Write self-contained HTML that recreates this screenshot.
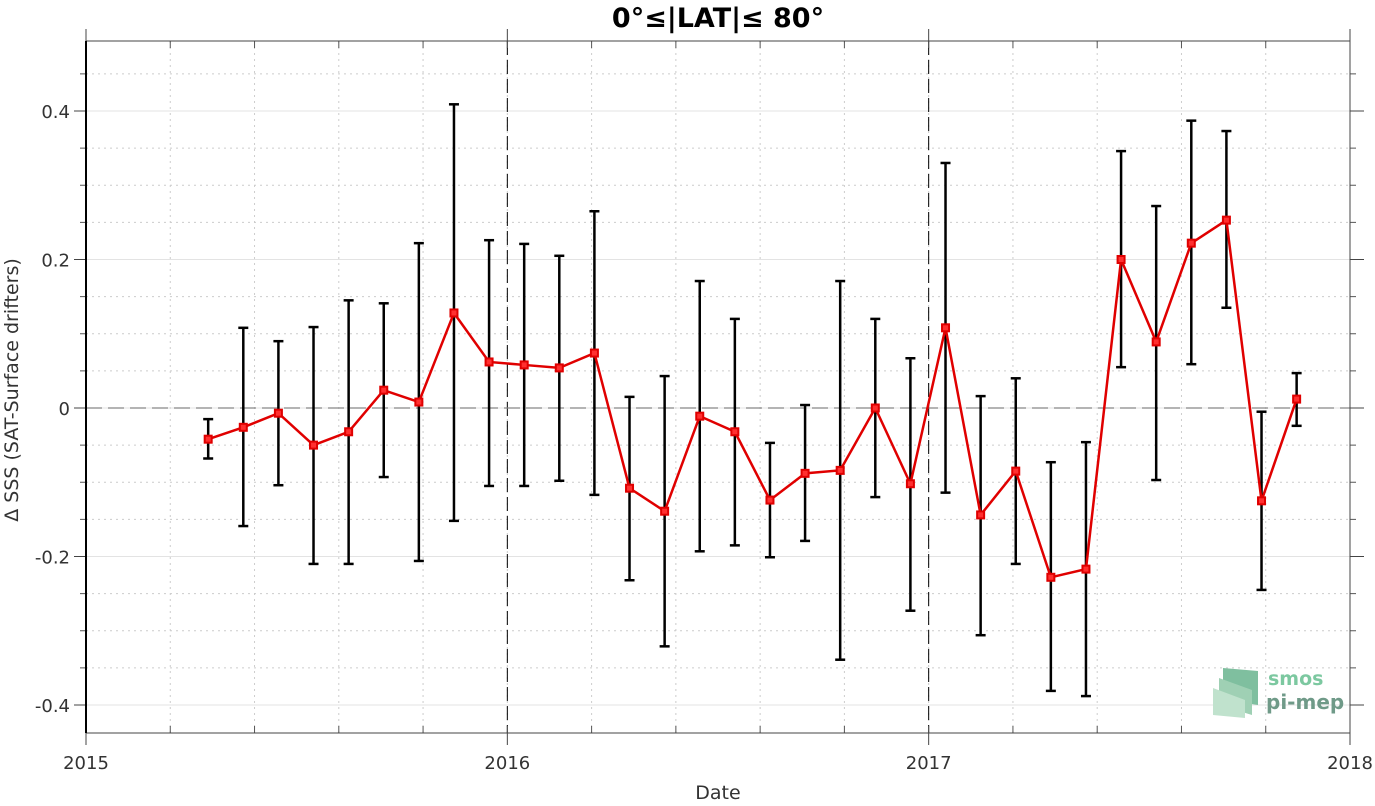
<!DOCTYPE html>
<html><head><meta charset="utf-8"><style>
body{margin:0;background:#fff;width:1375px;height:801px;overflow:hidden;font-family:"Liberation Sans","DejaVu Sans",sans-serif}
</style></head><body>
<svg id="chart" width="1375" height="801" xmlns="http://www.w3.org/2000/svg" font-family="DejaVu Sans, Liberation Sans, sans-serif">
<g id="grid"></g>
<g id="axes"></g>
<g id="series"></g>
<text x="718" y="27" text-anchor="middle" font-size="27" font-weight="bold" fill="#000">0°≤|LAT|≤ 80°</text>
<text x="718" y="799" text-anchor="middle" font-size="19" fill="#333">Date</text>
<text transform="translate(18,390) rotate(-90)" text-anchor="middle" font-size="19" fill="#333">Δ SSS (SAT-Surface drifters)</text>
<g>
<polygon points="1223,668 1258,671 1258,705 1223,700" fill="#7fbf9f"/>
<polygon points="1219,678 1252,690 1252,715 1219,705" fill="#9fd0b4"/>
<polygon points="1213,688 1245,700 1245,718 1213,715" fill="#c0e2cd"/>
<text x="1268" y="685" font-size="19" font-weight="bold" fill="#7cc8a0">smos</text>
<text x="1266" y="709" font-size="20" font-weight="bold" fill="#6f9a88">pi-mep</text>
</g>
</svg>
<script>
const dates=[];for(let i=0;i<32;i++)dates.push(2015.29+i/12);
const means=[-0.042,-0.026,-0.007,-0.05,-0.032,0.024,0.008,0.128,0.062,0.058,0.054,0.074,-0.108,-0.139,-0.011,-0.032,-0.124,-0.088,-0.084,0.0,-0.102,0.108,-0.144,-0.085,-0.228,-0.217,0.2,0.089,0.222,0.253,-0.125,0.012];
const upper=[-0.015,0.108,0.09,0.109,0.145,0.141,0.222,0.409,0.226,0.221,0.205,0.265,0.015,0.043,0.171,0.12,-0.047,0.004,0.171,0.12,0.067,0.33,0.016,0.04,-0.073,-0.046,0.346,0.272,0.387,0.373,-0.005,0.047];
const lower=[-0.068,-0.159,-0.104,-0.21,-0.21,-0.093,-0.206,-0.152,-0.105,-0.105,-0.098,-0.117,-0.232,-0.321,-0.193,-0.185,-0.201,-0.179,-0.339,-0.12,-0.273,-0.114,-0.306,-0.21,-0.381,-0.388,0.055,-0.097,0.059,0.135,-0.245,-0.024];
const yTicks=[-0.4,-0.2,0,0.2,0.4];
const yTickLabels=["-0.4","-0.2","0","0.2","0.4"];
const xTicks=[2015,2016,2017,2018];
const NS="http://www.w3.org/2000/svg";
const L=86,R=1350,T=41,B=733;
const xs=v=>L+(v-2015)/3*(R-L);
const ys=v=>408-v*742.5;
function mk(p,t,a){const e=document.createElementNS(NS,t);for(const k in a)e.setAttribute(k,a[k]);p.appendChild(e);return e;}
const grid=document.getElementById('grid'),axes=document.getElementById('axes'),ser=document.getElementById('series');
for(let v=-0.45;v<=0.5;v+=0.05){const y=ys(v);if(y<T||y>B)continue;
 const g=mk(grid,'line',{x1:L,x2:R,y1:y,y2:y,stroke:'#ccc','stroke-dasharray':'2,4','stroke-width':1});
 
 mk(axes,'line',{x1:L-6,x2:L,y1:y,y2:y,stroke:'#555'});mk(axes,'line',{x1:R,x2:R+6,y1:y,y2:y,stroke:'#555'});}
for(let k=1;k<15;k++){const x=xs(2015+k*0.2);
 const g=mk(grid,'line',{x1:x,x2:x,y1:T,y2:B,stroke:'#ccc','stroke-dasharray':'2,4','stroke-width':1});
 
 mk(axes,'line',{x1:x,x2:x,y1:B,y2:B-7,stroke:'#555'});mk(axes,'line',{x1:x,x2:x,y1:T,y2:T+7,stroke:'#555'});}
yTicks.forEach((v,i)=>{const y=ys(v);
 const g=mk(grid,'line',{x1:L,x2:R,y1:y,y2:y,stroke:'#e3e3e3','stroke-width':1});
 
 mk(axes,'line',{x1:L-12,x2:L,y1:y,y2:y,stroke:'#444'});mk(axes,'line',{x1:R,x2:R+14,y1:y,y2:y,stroke:'#444'});
 const t=mk(axes,'text',{x:L-16,y:y+7,'text-anchor':'end','font-size':18,fill:'#333'});t.textContent=yTickLabels[i];
 });
xTicks.forEach(v=>{const x=xs(v);
 mk(axes,'line',{x1:x,x2:x,y1:B,y2:B+12,stroke:'#444'});mk(axes,'line',{x1:x,x2:x,y1:T,y2:T-12,stroke:'#444'});
 if(v>2015&&v<2018){const d=mk(grid,'line',{x1:x,x2:x,y1:T,y2:B,stroke:'#000','stroke-dasharray':'14,5','stroke-width':1});
  }
 const t=mk(axes,'text',{x:x,y:B+36,'text-anchor':'middle','font-size':18,fill:'#333'});t.textContent=v;
 });
const z=mk(grid,'line',{x1:L,x2:R,y1:ys(0),y2:ys(0),stroke:'#888','stroke-dasharray':'16,6','stroke-width':1.3});

mk(axes,'rect',{x:L,y:T,width:R-L,height:B-T,fill:'none',stroke:'#444','stroke-width':1});
mk(axes,'line',{x1:L,x2:L,y1:T,y2:B,stroke:'#000','stroke-width':2});
dates.forEach((d,i)=>{const x=xs(d);
 const e=mk(ser,'g',{stroke:'#000','stroke-width':2.5});
 
 mk(e,'line',{x1:x,x2:x,y1:ys(upper[i]),y2:ys(lower[i])});
 mk(e,'line',{x1:x-5,x2:x+5,y1:ys(upper[i]),y2:ys(upper[i])});
 mk(e,'line',{x1:x-5,x2:x+5,y1:ys(lower[i]),y2:ys(lower[i])});});
const line=mk(ser,'polyline',{points:dates.map((d,i)=>xs(d)+','+ys(means[i])).join(' '),fill:'none',stroke:'#e00000','stroke-width':2.5});

dates.forEach((d,i)=>{const p=mk(ser,'rect',{x:xs(d)-3.5,y:ys(means[i])-3.5,width:7,height:7,fill:'#ff3030',stroke:'#e00000','stroke-width':2});
 });
</script>
</body></html>
